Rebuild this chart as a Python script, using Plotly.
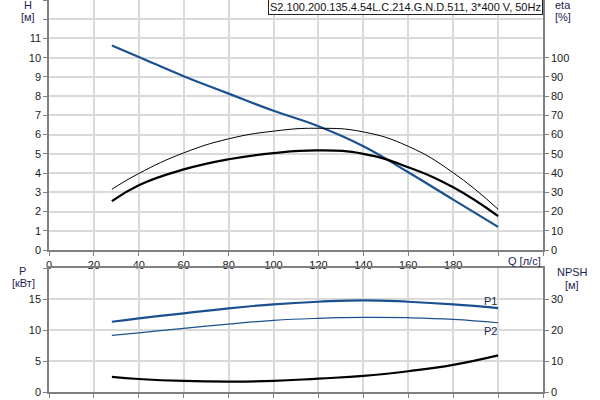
import plotly.graph_objects as go

# ---- data ----
q = [28, 40, 60, 80, 100, 120, 140, 160, 180, 200]
head = [10.63, 10.04, 9.04, 8.13, 7.24, 6.44, 5.40, 4.04, 2.62, 1.2]
eta_pump = [31.6, 39.8, 50.5, 57.8, 61.8, 63.3, 61.4, 53.9, 40.2, 21.2]
eta_total = [25.4, 33.7, 41.9, 47.2, 50.4, 51.8, 50.0, 43.0, 32.6, 17.6]
p1 = [11.33, 11.88, 12.69, 13.5, 14.14, 14.56, 14.79, 14.56, 14.14, 13.54]
p2 = [9.13, 9.55, 10.26, 10.95, 11.55, 11.88, 12.04, 11.98, 11.72, 11.17]
npsh = [4.86, 4.2, 3.56, 3.36, 3.56, 4.34, 5.18, 6.7, 8.74, 11.8]

q_ticks = [0, 20, 40, 60, 80, 100, 120, 140, 160, 180, 200, 220]
q_labels = ["0", "20", "40", "60", "80", "100", "120", "140", "160", "180", "", ""]
h_ticks = list(range(0, 14))
h_labels = [str(v) for v in range(0, 12)] + ["", ""]
eta_ticks = list(range(0, 110, 10))
p_ticks = [0, 5, 10, 15, 20]
p_labels = ["0", "5", "10", "15", ""]
npsh_ticks = [0, 10, 20, 30]
title = "S2.100.200.135.4.54L.C.214.G.N.D.511, 3*400 V, 50Hz"

BLUE = "#1b5090"
GRID = "#dadada"
AX = "#808080"
TXT = "#1a1a1a"
LBL = "#1c2550"

W, H = 600, 400
ML, MR, MT, MB = 49, 57, 0, 8
PW = W - ML - MR
PH = H - MT - MB


def px(x):
    return (x - ML) / PW


def py(y):
    return (H - MB - y) / PH


SM = 1.3
fig = go.Figure()
fig.add_trace(go.Scatter(x=q, y=eta_pump, xaxis="x", yaxis="y2", mode="lines",
                         line=dict(color="black", width=1, shape="spline", smoothing=SM)))
fig.add_trace(go.Scatter(x=q, y=eta_total, xaxis="x", yaxis="y2", mode="lines",
                         line=dict(color="black", width=2.2, shape="spline", smoothing=SM)))
fig.add_trace(go.Scatter(x=q, y=head, xaxis="x", yaxis="y", mode="lines",
                         line=dict(color=BLUE, width=2.2, shape="spline", smoothing=SM)))
fig.add_trace(go.Scatter(x=q, y=p1, xaxis="x2", yaxis="y3", mode="lines",
                         line=dict(color=BLUE, width=2.2, shape="spline", smoothing=SM)))
fig.add_trace(go.Scatter(x=q, y=p2, xaxis="x2", yaxis="y3", mode="lines",
                         line=dict(color=BLUE, width=1.2, shape="spline", smoothing=SM)))
fig.add_trace(go.Scatter(x=q, y=npsh, xaxis="x2", yaxis="y4", mode="lines",
                         line=dict(color="black", width=2.2, shape="spline", smoothing=SM)))

top_dom = [py(250), 1.0]
bot_dom = [0.0, py(268)]
tickfont = dict(family="Liberation Sans, Arial", size=11, color=TXT)
common = dict(showline=True, linecolor=AX, linewidth=1.5, gridcolor=GRID, gridwidth=1.5,
              ticks="outside", ticklen=4, tickcolor=AX, tickfont=tickfont, zeroline=False,
              fixedrange=True, automargin=False)
nogrid = {k: v for k, v in common.items() if k not in ("gridcolor", "gridwidth")}

fig.update_layout(
    width=W, height=H, margin=dict(l=ML, r=MR, t=MT, b=MB, autoexpand=False),
    paper_bgcolor="white", plot_bgcolor="white", showlegend=False,
    xaxis=dict(domain=[0, 1], range=[0, 220], tickvals=q_ticks, ticktext=q_labels,
               anchor="y", mirror=False, **common),
    xaxis2=dict(domain=[0, 1], range=[0, 220], tickvals=q_ticks, showticklabels=False,
                anchor="y3", mirror=True, **common),
    yaxis=dict(domain=top_dom, range=[0, 13], tickvals=h_ticks, ticktext=h_labels,
               anchor="x", **common),
    yaxis2=dict(range=[0, 130], tickvals=eta_ticks, overlaying="y", side="right",
                anchor="x", showgrid=False, **nogrid),
    yaxis3=dict(domain=bot_dom, range=[0, 20], tickvals=p_ticks, ticktext=p_labels,
                anchor="x2", **common),
    yaxis4=dict(range=[0, 40], tickvals=npsh_ticks, overlaying="y3", side="right",
                anchor="x2", showgrid=False, **nogrid),
)

afont = dict(family="Liberation Sans, Arial", size=11, color=LBL)
labels = [
    ("H", 28, 5), ("[м]", 28, 17), ("eta", 563, 5), ("[%]", 563, 17),
    ("P", 22, 271), ("[кВт]", 23, 283), ("NPSH", 572, 272), ("[м]", 572, 285),
    ("Q [л/с]", 524, 261), ("P1", 490, 301), ("P2", 490, 331),
]
for text, x, y in labels:
    fig.add_annotation(text=text, x=px(x), y=py(y), xref="paper", yref="paper",
                       showarrow=False, xanchor="center", yanchor="middle", font=afont)

fig.add_annotation(text=title, x=1, y=py(-1), xref="paper", yref="paper", showarrow=False,
                   xanchor="right", yanchor="top", bgcolor="white", bordercolor="#222",
                   borderwidth=1, borderpad=1,
                   font=dict(family="Liberation Sans, Arial", size=11, color="#111"))

fig.write_html("out.html", config={"displayModeBar": False},
               post_script="document.body.style.margin='0';")
